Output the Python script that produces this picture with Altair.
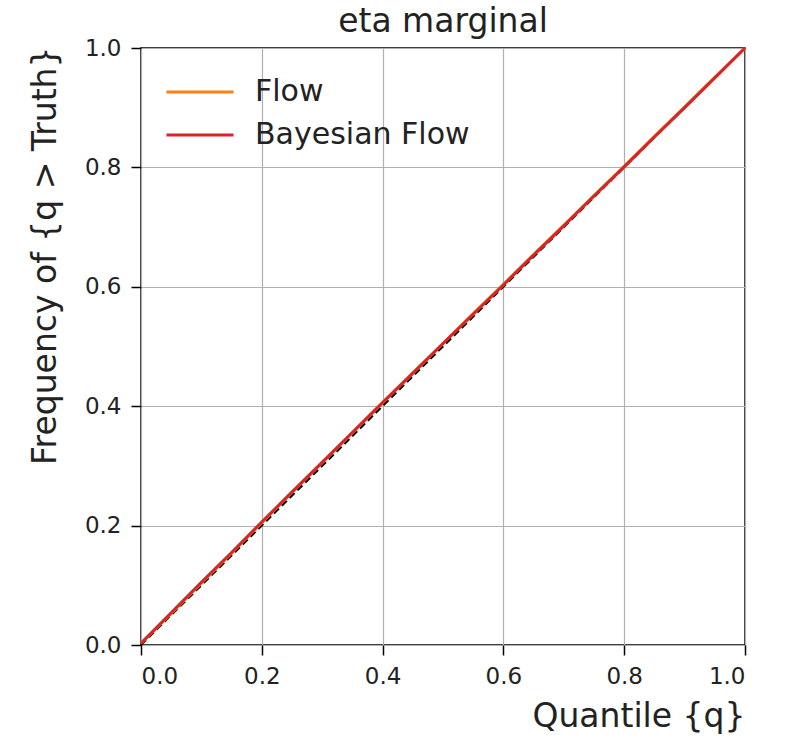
import altair as alt
import pandas as pd

# Calibration curves: nominal quantile vs. empirical frequency
quantile = [0.0, 0.05, 0.1, 0.15, 0.2, 0.25, 0.3, 0.35, 0.4, 0.45, 0.5,
            0.55, 0.6, 0.65, 0.7, 0.75, 0.8, 0.85, 0.9, 0.95, 1.0]
flow = [0.003, 0.053, 0.104, 0.154, 0.205, 0.256, 0.306, 0.356, 0.406, 0.456, 0.505,
        0.555, 0.604, 0.654, 0.703, 0.753, 0.802, 0.852, 0.901, 0.951, 1.0]
bayesian_flow = [0.003, 0.054, 0.105, 0.155, 0.206, 0.256, 0.306, 0.356, 0.406, 0.455, 0.505,
                 0.554, 0.603, 0.653, 0.702, 0.752, 0.801, 0.851, 0.900, 0.950, 1.0]
series_names = ["Flow", "Bayesian Flow"]
series_colors = ["#ff7f0e", "#d62728"]

ideal = pd.DataFrame({"q": [0.0, 1.0], "f": [0.0, 1.0]})
curves = pd.concat([
    pd.DataFrame({"q": quantile, "f": flow, "model": "Flow"}),
    pd.DataFrame({"q": quantile, "f": bayesian_flow, "model": "Bayesian Flow"}),
])

FONT = "DejaVu Sans"
W, H = 604, 597
TITLE_SIZE = 33
LEGEND_SIZE = 30
TICK_SIZE = 23

x_scale = alt.Scale(domain=[0, 1], nice=False, zero=False)
y_scale = alt.Scale(domain=[0, 1], nice=False, zero=False)
ticks = [0, 0.2, 0.4, 0.6, 0.8, 1.0]

x_axis = alt.Axis(values=ticks, format=".1f", title="Quantile {q}",
                  titleAnchor="end", titleAlign="right", titleX=W, titleY=81,
                  titleBaseline="alphabetic")
y_axis = alt.Axis(values=ticks, format=".1f", title="Frequency of {q > Truth}",
                  titleAngle=-90, titleAlign="right", titleBaseline="middle",
                  titleX=-96, titleY=-2)

diag = alt.Chart(ideal).mark_line(color="black", strokeDash=[7, 4], strokeWidth=2).encode(
    x=alt.X("q:Q", scale=x_scale, axis=x_axis),
    y=alt.Y("f:Q", scale=y_scale, axis=y_axis),
)

lines = alt.Chart(curves).mark_line(strokeWidth=3).encode(
    x=alt.X("q:Q", scale=x_scale, axis=x_axis),
    y=alt.Y("f:Q", scale=y_scale, axis=y_axis),
    color=alt.Color("model:N",
                    scale=alt.Scale(domain=series_names, range=series_colors),
                    sort=series_names,
                    legend=alt.Legend(title=None, orient="none", legendX=36, legendY=21,
                                      padding=0, rowPadding=5,
                                      symbolType="M-1.56,0H1.56", symbolSize=1849,
                                      symbolStrokeWidth=3, labelFontSize=LEGEND_SIZE,
                                      labelFont=FONT, labelColor="#222222",
                                      labelOffset=32, labelLimit=400)),
    order=alt.Order("model:N", sort="descending"),
)

chart = (
    alt.layer(diag, lines)
    .properties(
        width=W, height=H,
        background="white",
        title=alt.TitleParams("eta marginal", fontSize=TITLE_SIZE, font=FONT,
                              fontWeight="normal", color="#222222", anchor="middle",
                              offset=12, dy=14),
        padding={"left": 141, "top": 48, "right": 44, "bottom": 93},
        autosize=alt.AutoSizeParams(type="none"),
    )
    .configure_view(stroke="black", strokeWidth=1.5)
    .configure_axis(
        grid=True, gridColor="#b0b0b0", gridWidth=1.2,
        domain=False, ticks=True, tickColor="black", tickSize=10, tickWidth=1.5,
        labelFont=FONT, labelFontSize=TICK_SIZE, labelColor="#222222", labelPadding=10,
        titleFont=FONT, titleFontSize=TITLE_SIZE, titleFontWeight="normal",
        titleColor="#222222",
    )
)

chart.save("out.html", embed_options={"renderer": "svg", "actions": False})
